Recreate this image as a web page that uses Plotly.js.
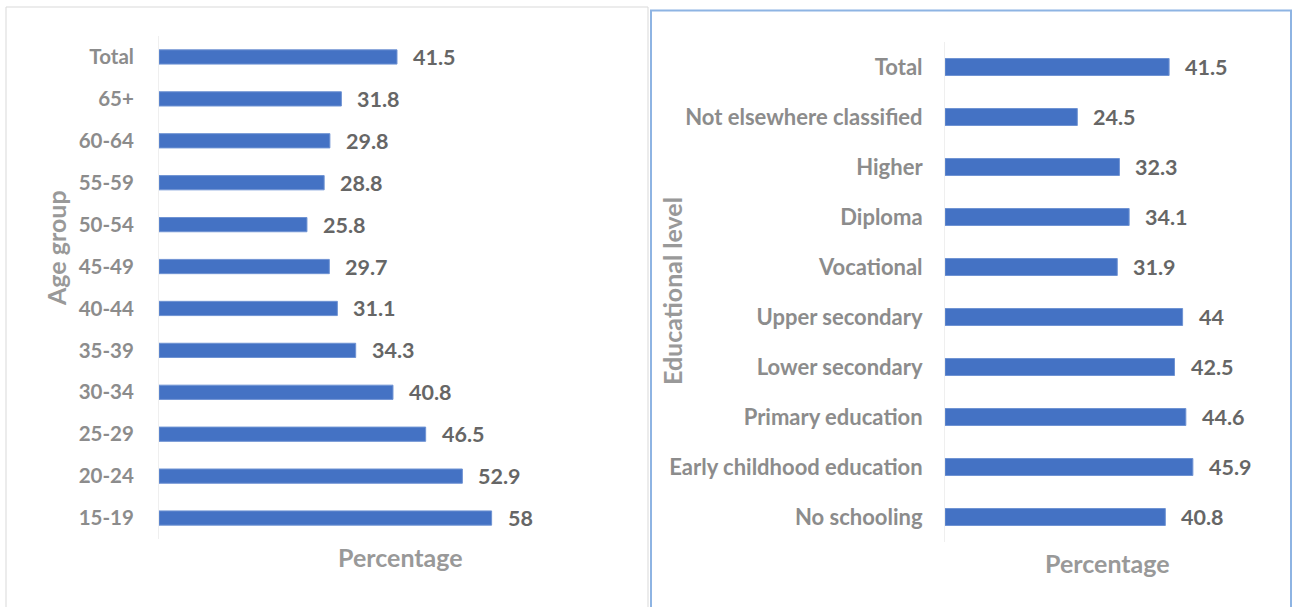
<!DOCTYPE html>
<html>
<head>
<meta charset="utf-8">
<script src="https://cdn.plot.ly/plotly-3.0.1.min.js"></script>
<style>html,body{margin:0;padding:0;background:#fff;}#chart{width:1293px;height:607px;}</style>
</head>
<body>
<div id="chart"></div>
<script>
// ---- data ----
const ageGroups = ["Total","65+","60-64","55-59","50-54","45-49","40-44","35-39","30-34","25-29","20-24","15-19"];
const ageValues = [41.5,31.8,29.8,28.8,25.8,29.7,31.1,34.3,40.8,46.5,52.9,58];
const eduLevels = ["Total","Not elsewhere classified","Higher","Diploma","Vocational","Upper secondary","Lower secondary","Primary education","Early childhood education","No schooling"];
const eduValues = [41.5,24.5,32.3,34.1,31.9,44,42.5,44.6,45.9,40.8];
const leftTitleX = "Percentage", leftTitleY = "Age group";
const rightTitleX = "Percentage", rightTitleY = "Educational level";

// ---- layout helpers ----
const W = 1293, H = 607;
const px = v => v / W;
const py = v => 1 - v / H;
const BAR = "#4472C4";
const TICK = "#8C8C8C";
const LABEL = "#666666";
const FONT = "Lato, 'Open Sans', sans-serif";

const traces = [
  {type:"bar", orientation:"h", x:ageValues, y:ageGroups, xaxis:"x", yaxis:"y",
   marker:{color:BAR, line:{color:"#6F93D3", width:1}}, hoverinfo:"x+y"},
  {type:"bar", orientation:"h", x:eduValues, y:eduLevels, xaxis:"x2", yaxis:"y2",
   marker:{color:BAR, line:{color:"#6F93D3", width:1}}, hoverinfo:"x+y"}
];

const labelFont = {family:FONT, size:21.5, color:LABEL, weight:700};
const annotations = [];
ageGroups.forEach((c,i)=>annotations.push({x:ageValues[i], y:c, xref:"x", yref:"y", text:String(ageValues[i]),
  showarrow:false, xanchor:"left", yanchor:"middle", xshift:14, font:labelFont}));
eduLevels.forEach((c,i)=>annotations.push({x:eduValues[i], y:c, xref:"x2", yref:"y2", text:String(eduValues[i]),
  showarrow:false, xanchor:"left", yanchor:"middle", xshift:14, font:labelFont}));

const titleFont = {family:FONT, size:25, color:"#999999", weight:700};
annotations.push({xref:"paper", yref:"paper", x:px(400), y:py(557), text:leftTitleX, showarrow:false, xanchor:"center", yanchor:"middle", font:titleFont});
annotations.push({xref:"paper", yref:"paper", x:px(1107), y:py(563), text:rightTitleX, showarrow:false, xanchor:"center", yanchor:"middle", font:titleFont});
annotations.push({xref:"paper", yref:"paper", x:px(56), y:py(248), text:leftTitleY, showarrow:false, textangle:-90, xanchor:"center", yanchor:"middle", font:titleFont});
annotations.push({xref:"paper", yref:"paper", x:px(672), y:py(291), text:rightTitleY, showarrow:false, textangle:-90, xanchor:"center", yanchor:"middle", font:titleFont});

const tickFontL = {family:FONT, size:20.5, color:TICK, weight:700};
const tickFontR = {family:FONT, size:22, color:TICK, weight:700};

const layout = {
  width:W, height:H,
  margin:{l:0, r:0, t:0, b:0},
  paper_bgcolor:"#ffffff", plot_bgcolor:"rgba(0,0,0,0)",
  showlegend:false, bargap:0.66,
  xaxis:{domain:[px(159), px(641)], range:[0,84.05], anchor:"y", showgrid:false, zeroline:false, showticklabels:false, showline:false, fixedrange:true},
  yaxis:{domain:[py(539), py(36)], anchor:"x", autorange:"reversed", type:"category", showgrid:false, zeroline:false,
         showline:true, linecolor:"#EFEFEF", linewidth:1, ticks:"", tickfont:tickFontL, ticklabelstandoff:20, fixedrange:true},
  xaxis2:{domain:[px(945), px(1269)], range:[0,60], anchor:"y2", showgrid:false, zeroline:false, showticklabels:false, showline:false, fixedrange:true},
  yaxis2:{domain:[py(542), py(42)], anchor:"x2", autorange:"reversed", type:"category", showgrid:false, zeroline:false,
          showline:true, linecolor:"#EFEFEF", linewidth:1, ticks:"", tickfont:tickFontR, ticklabelstandoff:17, fixedrange:true},
  annotations:annotations,
  shapes:[
    {type:"rect", xref:"paper", yref:"paper", x0:px(6), x1:px(648), y0:py(620), y1:py(7), line:{color:"#D9D9D9", width:1}, fillcolor:"rgba(0,0,0,0)", layer:"below"},
    {type:"rect", xref:"paper", yref:"paper", x0:px(651), x1:px(1291), y0:py(620), y1:py(10.5), line:{color:"#8EB4E3", width:2}, fillcolor:"rgba(0,0,0,0)", layer:"below"}
  ]
};

Plotly.newPlot("chart", traces, layout, {displayModeBar:false, staticPlot:true});
</script>
</body>
</html>
